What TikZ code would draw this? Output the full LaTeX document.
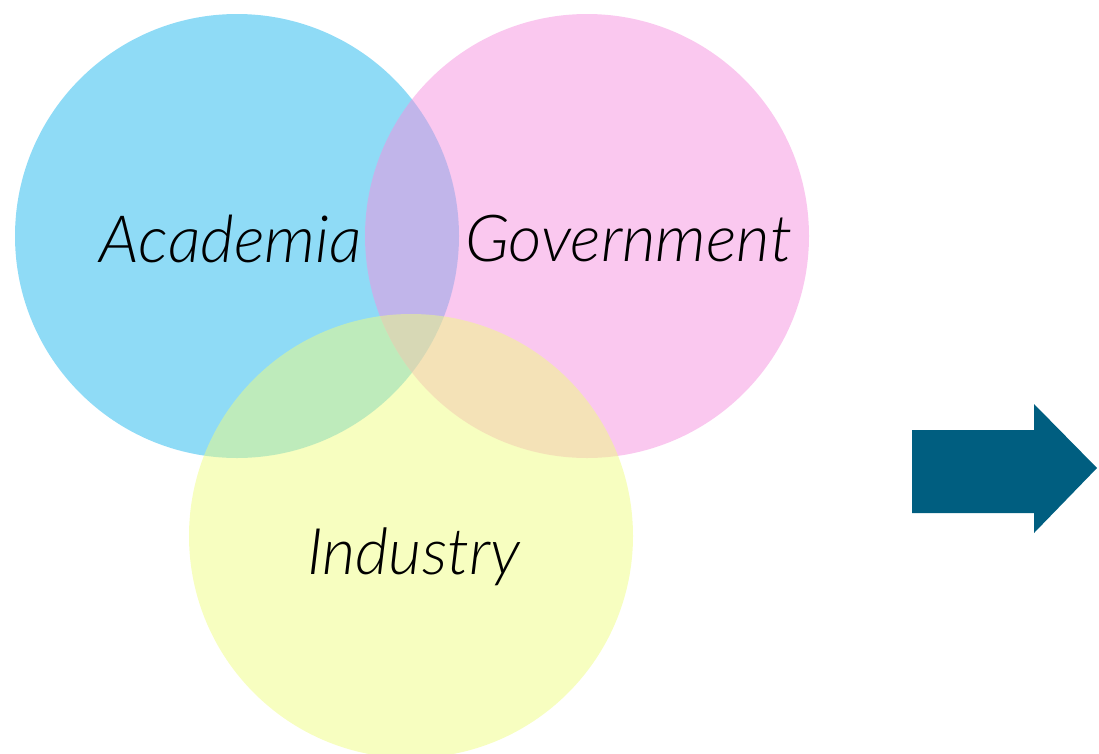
\documentclass[tikz,border=0pt]{standalone}
\usepackage{fontspec}
\IfFontExistsTF{Lato Light Italic}{%
  \newfontfamily\lblfont{Lato Light Italic}}{%
  \IfFontExistsTF{Fira Sans Light Italic}{%
    \newfontfamily\lblfont{Fira Sans Light Italic}}{%
    \newfontfamily\lblfont{Open Sans}[UprightFont=*-Italic]}}
\definecolor{cblue}{RGB}{31,183,237}
\definecolor{cpink}{RGB}{245,145,223}
\definecolor{cyell}{RGB}{239,253,129}
\definecolor{carrow}{RGB}{0,94,128}
\tikzset{
  venn/.style={fill opacity=0.5},
  lbl/.style={font=\fontsize{60}{72}\lblfont, anchor=base, text=black, inner sep=0pt},
}
\begin{document}
\begin{tikzpicture}[x=1pt,y=-1pt]
\useasboundingbox (0,0) rectangle (1099,753);
\fill[venn, cblue] (237,236) circle (222);
\fill[venn, cpink] (587,236) circle (222);
\fill[venn, cyell] (411,536) circle (222);
\node[lbl] (aca) at (231,262) {\resizebox{262pt}{!}{Academia}};
\node[lbl] (gov) at (628.5,261) {\resizebox{327pt}{!}{Government}};
\node[lbl] (ind) at (413.5,574) {\resizebox{213pt}{!}{Industry}};
\fill[carrow] (912,430) -- (1034,430) -- (1034,404) -- (1097,468) -- (1034,533) -- (1034,513) -- (912,513) -- cycle;
\end{tikzpicture}
\end{document}
